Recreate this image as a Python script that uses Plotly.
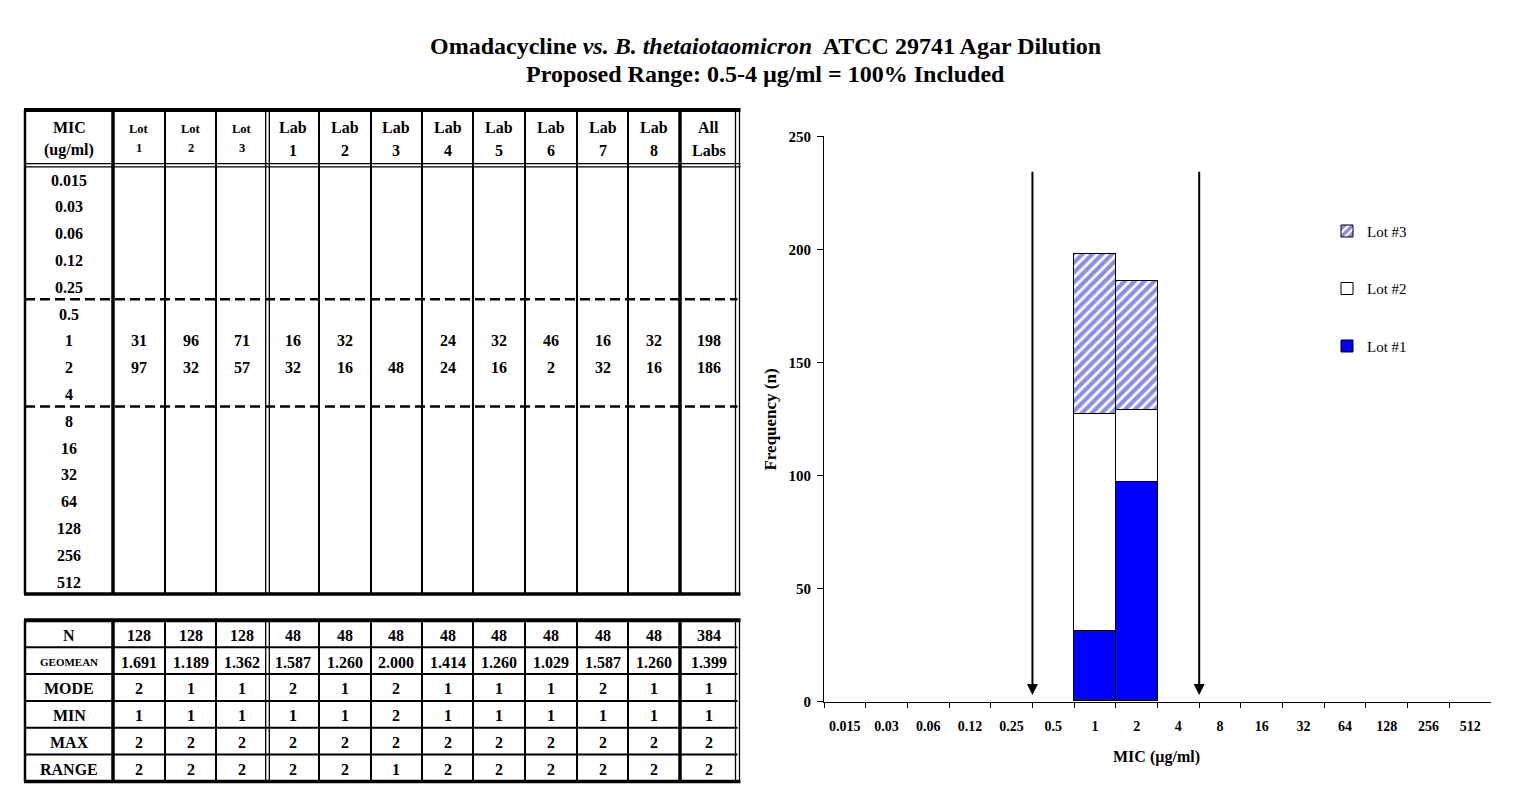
import plotly.graph_objects as go

W, H = 1531, 792

# ---------------- data ----------------
mic_labels = ["0.015", "0.03", "0.06", "0.12", "0.25", "0.5", "1", "2",
              "4", "8", "16", "32", "64", "128", "256", "512"]

col_heads = [("Lot", "1"), ("Lot", "2"), ("Lot", "3"),
             ("Lab", "1"), ("Lab", "2"), ("Lab", "3"), ("Lab", "4"),
             ("Lab", "5"), ("Lab", "6"), ("Lab", "7"), ("Lab", "8"),
             ("All", "Labs")]

_ = None
lot1 = [_, _, _, _, _, _, 31, 97, _, _, _, _, _, _, _, _]
lot2 = [_, _, _, _, _, _, 96, 32, _, _, _, _, _, _, _, _]
lot3 = [_, _, _, _, _, _, 71, 57, _, _, _, _, _, _, _, _]
lab1 = [_, _, _, _, _, _, 16, 32, _, _, _, _, _, _, _, _]
lab2 = [_, _, _, _, _, _, 32, 16, _, _, _, _, _, _, _, _]
lab3 = [_, _, _, _, _, _, _, 48, _, _, _, _, _, _, _, _]
lab4 = [_, _, _, _, _, _, 24, 24, _, _, _, _, _, _, _, _]
lab5 = [_, _, _, _, _, _, 32, 16, _, _, _, _, _, _, _, _]
lab6 = [_, _, _, _, _, _, 46, 2, _, _, _, _, _, _, _, _]
lab7 = [_, _, _, _, _, _, 16, 32, _, _, _, _, _, _, _, _]
lab8 = [_, _, _, _, _, _, 32, 16, _, _, _, _, _, _, _, _]
all_labs = [_, _, _, _, _, _, 198, 186, _, _, _, _, _, _, _, _]

stat_names = ["N", "GEOMEAN", "MODE", "MIN", "MAX", "RANGE"]
n_vals = ["128", "128", "128", "48", "48", "48", "48", "48", "48", "48", "48", "384"]
geomean_vals = ["1.691", "1.189", "1.362", "1.587", "1.260", "2.000",
                "1.414", "1.260", "1.029", "1.587", "1.260", "1.399"]
mode_vals = ["2", "1", "1", "2", "1", "2", "1", "1", "1", "2", "1", "1"]
min_vals = ["1", "1", "1", "1", "1", "2", "1", "1", "1", "1", "1", "1"]
max_vals = ["2", "2", "2", "2", "2", "2", "2", "2", "2", "2", "2", "2"]
range_vals = ["2", "2", "2", "2", "2", "1", "2", "2", "2", "2", "2", "2"]

range_low_edge = 4.5    # boundary between 0.25 and 0.5
range_high_edge = 8.5   # boundary between 4 and 8

FONT = "Liberation Serif"

# ---------------- helpers ----------------
def px(x):
    return x / W


def py(y):
    return 1 - y / H


shapes = []
annotations = []


def hline(x0, x1, y, width=2, dash=None):
    shapes.append(dict(type="line", xref="paper", yref="paper",
                       x0=px(x0), x1=px(x1), y0=py(y), y1=py(y),
                       line=dict(color="black", width=width, dash=dash)))


def vline(x, y0, y1, width=2):
    shapes.append(dict(type="line", xref="paper", yref="paper",
                       x0=px(x), x1=px(x), y0=py(y0), y1=py(y1),
                       line=dict(color="black", width=width)))


def text(x, y, s, size=16, bold=True, angle=0):
    annotations.append(dict(xref="paper", yref="paper", x=px(x), y=py(y),
                            text=s, showarrow=False, xanchor="center",
                            yanchor="middle", textangle=angle,
                            font=dict(family=FONT, size=size, color="black",
                                      weight="bold" if bold else "normal")))


# ---------------- chart ----------------
fig = go.Figure()
fig.add_trace(go.Bar(x=mic_labels, y=lot1, name="Lot #1", legendgroup="g1",
                     legendrank=3,
                     marker=dict(color="#0000FF", line=dict(color="black", width=1))))
fig.add_trace(go.Bar(x=mic_labels, y=lot2, name="Lot #2", legendgroup="g2",
                     legendrank=2,
                     marker=dict(color="white", line=dict(color="black", width=1))))
fig.add_trace(go.Bar(x=mic_labels, y=lot3, name="Lot #3", legendgroup="g3",
                     legendrank=1,
                     marker=dict(color="white", line=dict(color="black", width=1),
                                 pattern=dict(shape="/", fgcolor="#1a1ad6",
                                              bgcolor="white", size=7,
                                              solidity=0.6))))

x_left, x_right = 824, 1491
y_zero, y_top = 708, 131

fig.update_layout(
    width=W, height=H,
    margin=dict(l=0, r=0, t=0, b=0),
    paper_bgcolor="white", plot_bgcolor="white",
    barmode="stack", bargap=0,
    font=dict(family=FONT, color="black"),
    xaxis=dict(domain=[px(x_left), px(x_right)], type="category",
               range=[-0.5, 15.5], tickson="boundaries", ticks="outside",
               ticklen=5, tickcolor="black", showline=True, linecolor="black",
               linewidth=1, showgrid=False, zeroline=False, tickangle=0,
               ticklabelstandoff=12,
               tickfont=dict(family=FONT, size=14, weight="bold")),
    yaxis=dict(domain=[py(y_zero), py(y_top)], range=[0, 250], dtick=50,
               ticks="outside", ticklen=6, tickcolor="black", showline=True,
               linecolor="black", linewidth=1, showgrid=False, zeroline=False,
               ticklabelstandoff=3,
               tickfont=dict(family=FONT, size=15, weight="bold")),
    legend=dict(x=px(1327), y=py(211), xanchor="left", yanchor="top",
                traceorder="grouped", tracegroupgap=35,
                font=dict(family=FONT, size=15, color="black"),
                bgcolor="rgba(0,0,0,0)"),
)

# proposed range arrows
for edge in (range_low_edge, range_high_edge):
    annotations.append(dict(xref="x", yref="y", axref="x", ayref="y",
                            x=edge, y=3, ax=edge, ay=235, text="",
                            showarrow=True, arrowhead=2, arrowsize=1.1,
                            arrowwidth=2, arrowcolor="black"))

# axis titles
text(1156, 764, "MIC (µg/ml)", size=16)
text(771, 420, "Frequency (n)", size=17, angle=-90)

# chart title
text(765, 39, "Omadacycline <i>vs. B. thetaiotaomicron</i>  ATCC 29741 Agar Dilution", size=24)
text(765, 67, "Proposed Range: 0.5-4 µg/ml = 100% Included", size=24)

# ---------------- MIC table ----------------
col_x = [25, 113, 165, 216, 267.5, 319, 371, 422, 473, 525, 577, 628, 680, 737.5]
left, right = col_x[0], col_x[-1]
head_top, head_bot = 104, 160.5
row_h = 27.35
body_bot = head_bot + row_h * len(mic_labels)


def column_rules(y0, y1):
    vline(left, y0, y1, width=2.5)
    vline(col_x[1], y0, y1, width=3.5)
    for i in (2, 3, 5, 6, 7, 8, 9, 10, 11):
        vline(col_x[i], y0, y1, width=2)
    vline(col_x[4] - 1.8, y0, y1, width=1.3)
    vline(col_x[4] + 1.8, y0, y1, width=1.3)
    vline(col_x[12], y0, y1, width=3.5)
    vline(right - 2, y0, y1, width=1.3)
    vline(right + 2, y0, y1, width=1.3)


column_rules(head_top, body_bot)
hline(left - 1, right + 3, head_top, width=4)
hline(left, right + 3, head_bot - 1.6, width=1.3)
hline(left, right + 3, head_bot + 1.6, width=1.3)
hline(left - 1, right + 3, body_bot, width=3.5)
for k in (5, 9):
    hline(left, right, head_bot + row_h * k, width=2.5, dash="10px,5px")

# header
mid = [(col_x[i] + col_x[i + 1]) / 2 for i in range(len(col_x) - 1)]
text(mid[0], 122, "MIC", size=16)
text(mid[0], 145, "(ug/ml)", size=16)
for j, (a, b) in enumerate(col_heads):
    if a == "Lot":
        text(mid[j + 1], 123, a, size=12.5)
        text(mid[j + 1], 143, b, size=12.5)
    else:
        text(mid[j + 1], 122, a, size=16)
        text(mid[j + 1], 145, b, size=16)

# body
columns = [lot1, lot2, lot3, lab1, lab2, lab3, lab4, lab5, lab6, lab7, lab8, all_labs]
for i, lab in enumerate(mic_labels):
    yc = head_bot + row_h * (i + 0.5) + 1.5
    text(mid[0], yc, lab, size=16)
    for j, col in enumerate(columns):
        if col[i] is not None:
            text(mid[j + 1], yc, str(col[i]), size=16)

# ---------------- statistics table ----------------
st_top = 625
st_h = 27.4
st_bot = st_top + st_h * len(stat_names)
column_rules(st_top, st_bot)
hline(left - 1, right + 3, st_top, width=4)
hline(left - 1, right + 3, st_bot, width=3.5)
for k in range(1, len(stat_names)):
    hline(left, right, st_top + st_h * k, width=2)

stat_rows = [n_vals, geomean_vals, mode_vals, min_vals, max_vals, range_vals]
for i, (name, vals) in enumerate(zip(stat_names, stat_rows)):
    yc = st_top + st_h * (i + 0.5) + 1.5
    text(mid[0], yc, name, size=11 if name == "GEOMEAN" else 16)
    for j, v in enumerate(vals):
        text(mid[j + 1], yc, v, size=16)

fig.update_layout(shapes=shapes, annotations=annotations)
fig.write_html("out.html")
